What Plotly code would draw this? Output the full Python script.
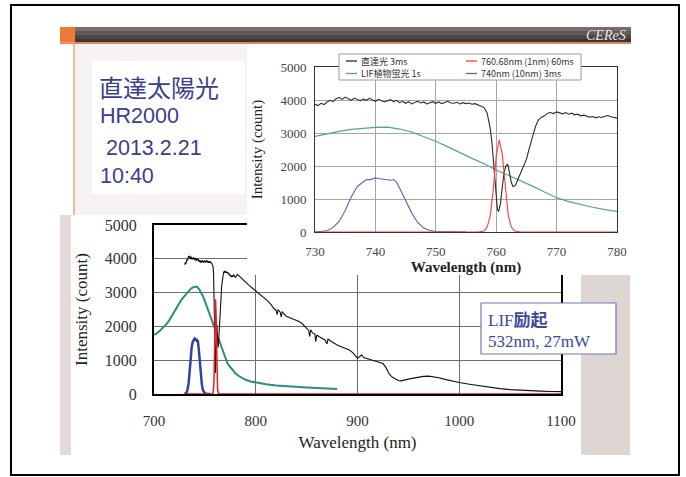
import plotly.graph_objects as go

W, H = 686, 477

# ---------------- data ----------------
black_wl = [730.0, 730.5, 731.0, 731.5, 732.0, 732.5, 733.0, 733.5, 734.0, 734.5,
            735.0, 735.5, 736.0, 736.5, 737.0, 737.5, 738.0, 738.5, 739.0, 739.5,
            740.0, 740.5, 741.0, 741.5, 742.0, 742.5, 743.0, 743.5, 744.0, 744.5,
            745.0, 745.5, 746.0, 746.5, 747.0, 747.5, 748.0, 748.5, 749.0, 749.5,
            750.0, 750.5, 751.0, 751.5, 752.0, 752.5, 753.0, 753.5, 754.0, 754.5,
            755.0, 755.5, 756.0, 756.5, 757.0, 757.5, 758.0, 758.5, 759.0, 759.3,
            759.6, 759.9, 760.2, 760.4, 760.7, 761.0, 761.3, 761.6, 761.9, 762.2,
            762.5, 762.8, 763.2, 763.6, 764.0, 764.5, 765.0, 765.5, 766.0, 766.5,
            767.0, 767.5, 768.0, 768.5, 769.0, 769.5, 770.0, 770.5, 771.0, 771.5,
            772.0, 772.5, 773.0, 773.5, 774.0, 774.5, 775.0, 775.5, 776.0, 776.5,
            777.0, 777.5, 778.0, 778.5, 779.0, 779.5, 780.0,
            782, 784, 786, 788, 790, 792, 794, 796, 798, 800,
            802, 804, 806, 808, 810, 812, 814, 816, 818, 820,
            821, 822, 824, 825, 826, 828, 830, 833, 836, 839,
            842, 845, 848, 850, 852, 853, 854, 856, 858, 859,
            860, 862, 865, 868, 870, 871, 874, 877, 880, 884,
            888, 892, 895, 898, 900, 902, 904, 906, 910, 915,
            920, 925, 928, 931, 934, 937, 940, 943, 946, 950,
            955, 960, 965, 970, 975, 980, 985, 990, 995, 1000,
            1010, 1020, 1030, 1040, 1050, 1060, 1070, 1080, 1090, 1100]
black_int = [3870, 3830, 3900, 3860, 3940, 3990, 3950, 4040, 4080, 4020,
             4090, 4050, 3990, 4060, 4020, 3980, 4030, 3990, 4050, 4000,
             3960, 4020, 3990, 3940, 3980, 4010, 3950, 3990, 3920, 3960,
             3900, 3950, 3880, 3930, 3960, 3910, 3940, 3880, 3920, 3950,
             3900, 3940, 3890, 3920, 3960, 3910, 3900, 3930, 3880, 3920,
             3890, 3910, 3870, 3890, 3850, 3820, 3770, 3600, 3150, 2700,
             1950, 1200, 680, 620, 850, 1350, 1800, 2000, 2050, 1800,
             1500, 1370, 1420, 1600, 1780, 1950, 2200, 2550, 2900, 3200,
             3400, 3480, 3520, 3600, 3620, 3590, 3640, 3600, 3580, 3620,
             3570, 3600, 3550, 3570, 3520, 3540, 3510, 3480, 3500, 3460,
             3490, 3470, 3510, 3530, 3490, 3460, 3450,
             3540, 3480, 3420, 3350, 3300, 3260, 3200, 3150, 3100, 3040,
             3000, 2960, 2900, 2850, 2790, 2750, 2680, 2600, 2520, 2480,
             2350, 2500, 2420, 2280, 2440, 2360, 2300, 2260, 2230, 2200,
             2150, 2100, 2000, 1950, 1880, 1700, 1900, 1800, 1780, 1550,
             1750, 1700, 1650, 1600, 1480, 1620, 1560, 1500, 1450, 1400,
             1350, 1300, 1230, 1120, 1060, 1100, 1160, 1080, 1040, 1000,
             960, 900, 780, 600, 500, 440, 400, 390, 420, 440,
             470, 500, 520, 530, 510, 480, 440, 400, 370, 340,
             290, 240, 200, 160, 130, 110, 95, 85, 75, 70]

teal_wl = [700, 703, 706, 709, 712, 715, 718, 721, 724, 727,
           730, 732, 734, 736, 738, 740, 742, 744, 746, 748,
           750, 752, 754, 756, 758, 760, 762, 764, 766, 768,
           770, 772, 774, 776, 778, 780, 783, 786, 790, 795,
           800, 805, 810, 820, 830, 840, 850, 860, 870, 880]
teal_int = [1750, 1800, 1880, 1960, 2060, 2180, 2320, 2480, 2640, 2790,
            2900, 2980, 3050, 3110, 3150, 3170, 3180, 3120, 3030, 2900,
            2750, 2580, 2400, 2230, 2070, 1880, 1720, 1560, 1390, 1210,
            1040, 920, 830, 750, 680, 615, 540, 480, 420, 370,
            340, 310, 290, 255, 230, 210, 195, 180, 165, 150]

blue_wl = [730, 731, 732, 733, 734, 735, 736, 737, 738, 738.5,
           739, 739.5, 740, 740.5, 741, 741.5, 742, 742.5, 743, 743.5,
           744, 744.5, 745, 745.5, 746, 747, 748, 749, 750, 752, 755]
blue_int = [0, 10, 40, 140, 320, 650, 1060, 1380, 1540, 1590,
            1580, 1620, 1640, 1620, 1610, 1590, 1600, 1570, 1590, 1510,
            1330, 1150, 950, 760, 580, 290, 120, 45, 15, 5, 0]

red_wl = [730, 757, 758, 758.5, 759, 759.5, 760, 760.5, 761, 761.5,
          762, 762.5, 763, 764, 1100]
red_int = [0, 0, 30, 150, 480, 1250, 2300, 2800, 2350, 1300,
           500, 150, 40, 0, 0]

series_names = ["直達光 3ms", "LIF植物蛍光 1s", "760.68nm (1nm) 60ms", "740nm (10nm) 3ms"]
main_xticks = [700, 800, 900, 1000, 1100]
inset_xticks = [730, 740, 750, 760, 770, 780]
y_ticks = [0, 1000, 2000, 3000, 4000, 5000]
info_lines = ["直達太陽光", "HR2000", "\u00a02013.2.21", "10:40"]
lif_lines = ["LIF<span style=\"font-family:'Noto Sans CJK JP'\"><b>励起</b></span>", "532nm, 27mW"]
header_text = "CEReS"

# ---------------- helpers ----------------
def X(p):
    return p / W

def Y(p):
    return 1 - p / H

SERIF = "Liberation Serif, Times New Roman, serif"
SANS = "Liberation Sans, Arial, sans-serif"
CJK = "Noto Sans CJK JP, sans-serif"
TXT_BLUE = "#3a3f8e"

fig = go.Figure()

# main chart traces
main_style = {
    "teal": dict(color="#2e8c7d", width=2),
    "blue": dict(color="#3540a6", width=2.5),
    "black": dict(color="#111111", width=1.1),
    "red": dict(color="#ec1c24", width=1.5),
}
fig.add_trace(go.Scatter(x=teal_wl, y=teal_int, mode="lines", line=main_style["teal"],
                         name=series_names[1], showlegend=False, xaxis="x", yaxis="y"))
fig.add_trace(go.Scatter(x=blue_wl, y=blue_int, mode="lines", line=main_style["blue"],
                         name=series_names[3], showlegend=False, xaxis="x", yaxis="y"))
fig.add_trace(go.Scatter(x=black_wl, y=black_int, mode="lines", line=main_style["black"],
                         name=series_names[0], showlegend=False, xaxis="x", yaxis="y"))
fig.add_trace(go.Scatter(x=red_wl, y=red_int, mode="lines", line=main_style["red"],
                         name=series_names[2], showlegend=False, xaxis="x", yaxis="y"))

# empty subplot acting as the white backing of the inset
fig.add_trace(go.Scatter(x=[None], y=[None], mode="lines", showlegend=False,
                         hoverinfo="skip", xaxis="x2", yaxis="y2"))

# inset traces
inset_style = {
    "teal": dict(color="#4ea596", width=1.2),
    "blue": dict(color="#5a62bb", width=1.1),
    "black": dict(color="#2b2b2b", width=1.1),
    "red": dict(color="#ff3b3b", width=1.1),
}
fig.add_trace(go.Scatter(x=teal_wl, y=teal_int, mode="lines", line=inset_style["teal"],
                         name=series_names[1], showlegend=False, xaxis="x3", yaxis="y3"))
fig.add_trace(go.Scatter(x=blue_wl, y=blue_int, mode="lines", line=inset_style["blue"],
                         name=series_names[3], showlegend=False, xaxis="x3", yaxis="y3"))
fig.add_trace(go.Scatter(x=black_wl, y=black_int, mode="lines", line=inset_style["black"],
                         name=series_names[0], showlegend=False, xaxis="x3", yaxis="y3"))
fig.add_trace(go.Scatter(x=red_wl, y=red_int, mode="lines", line=inset_style["red"],
                         name=series_names[2], showlegend=False, xaxis="x3", yaxis="y3"))

main_axis_common = dict(showgrid=True, gridcolor="#6e6e6e", gridwidth=1, zeroline=False,
                        showline=True, linecolor="#000000", linewidth=2, mirror=True,
                        ticks="", automargin=False)
inset_axis_common = dict(showgrid=True, gridcolor="#a6a6a6", gridwidth=1, zeroline=False,
                         showline=True, linecolor="#333333", linewidth=1, mirror=True,
                         ticks="", automargin=False)

fig.update_layout(
    width=W, height=H, autosize=False,
    margin=dict(l=0, r=0, t=0, b=0, pad=0),
    paper_bgcolor="#ffffff", plot_bgcolor="#ffffff",
    showlegend=False,
    xaxis=dict(domain=[X(154), X(561)], range=[700, 1100], tickvals=main_xticks,
               tickfont=dict(family=SERIF, size=15, color="#333333"), ticklabelstandoff=12,
               title=dict(text="Wavelength (nm)", font=dict(family=SERIF, size=17, color="#222222"),
                          standoff=8),
               anchor="y", **main_axis_common),
    yaxis=dict(domain=[Y(394), Y(225)], range=[0, 5000], tickvals=y_ticks,
               tickfont=dict(family=SERIF, size=16, color="#333333"), ticklabelstandoff=12,
               title=dict(text="Intensity (count)", font=dict(family=SERIF, size=17, color="#222222"),
                          standoff=13),
               anchor="x", **main_axis_common),
    xaxis2=dict(domain=[X(247), X(640)], range=[0, 1], visible=False, anchor="y2", automargin=False),
    yaxis2=dict(domain=[Y(275), Y(190)], range=[0, 1], visible=False, anchor="x2", automargin=False),
    xaxis3=dict(domain=[X(315), X(617)], range=[730, 780], tickvals=inset_xticks,
                tickfont=dict(family=SERIF, size=13, color="#444444"), ticklabelstandoff=7,
                title=dict(text="<b>Wavelength (nm)</b>", font=dict(family=SERIF, size=15, color="#222222"),
                           standoff=1),
                anchor="y3", **inset_axis_common),
    yaxis3=dict(domain=[Y(232), Y(67)], range=[0, 5000], tickvals=y_ticks,
                tickfont=dict(family=SERIF, size=13, color="#444444"), ticklabelstandoff=5,
                title=dict(text="Intensity (count)", font=dict(family=SERIF, size=15, color="#222222"),
                           standoff=14),
                anchor="x3", **inset_axis_common),
)

shapes = []

def rect(x0, y0, x1, y1, fill, line_color=None, lw=0, layer="below"):
    shapes.append(dict(type="rect", xref="paper", yref="paper",
                       x0=X(x0), x1=X(x1), y0=Y(y1), y1=Y(y0),
                       fillcolor=fill, layer=layer,
                       line=dict(color=line_color or fill, width=lw)))

def seg(x0, y0, x1, y1, color, lw, layer="below"):
    shapes.append(dict(type="line", xref="paper", yref="paper",
                       x0=X(x0), x1=X(x1), y0=Y(y0), y1=Y(y1), layer=layer,
                       line=dict(color=color, width=lw)))

# slide decorations
rect(75, 44, 247, 215, "#f6f3f2")              # left text panel
rect(92, 61, 245, 194, "#ffffff")              # white text box
rect(60, 215, 71, 455, "#e2dbd9")              # left grey strip
rect(581, 275, 630, 455, "#ddd6d3")            # right grey strip
# header bar with a simple vertical gradient
rect(75, 27, 631, 31, "#756e6a")
rect(75, 31, 631, 35, "#605955")
rect(75, 35, 631, 39, "#4c4643")
rect(75, 39, 631, 42.5, "#3b3633")
rect(60, 27, 75, 42.5, "#f07838")              # orange square
rect(60, 42.5, 631, 44, "#ee8350")             # orange underline
seg(74, 44, 74, 215, "#f0a07e", 1.5)           # orange vertical rule
# slide frame
shapes.append(dict(type="rect", xref="paper", yref="paper", x0=X(11), x1=X(679),
                   y0=Y(475), y1=Y(5), layer="below",
                   line=dict(color="#000000", width=2), fillcolor="rgba(0,0,0,0)"))

# inset legend (box + line samples)
rect(339, 54, 581, 80, "#ffffff", "#9a9a9a", 1, layer="above")
leg_colors = [inset_style["black"]["color"], inset_style["teal"]["color"],
              inset_style["red"]["color"], inset_style["blue"]["color"]]
leg_pos = [(346, 61), (346, 73.5), (466, 61), (466, 73.5)]
for (lx, ly), c in zip(leg_pos, leg_colors):
    seg(lx, ly, lx + 11, ly, c, 1.3, layer="above")

# LIF box
rect(481, 303, 616, 354, "#ffffff", "#6f7bbd", 1.2, layer="above")

annotations = []

def text(x, y, s, size, family, color, xanchor="left", pad=1):
    annotations.append(dict(xref="paper", yref="paper", x=X(x), y=Y(y), text=s,
                            showarrow=False, xanchor=xanchor, yanchor="middle",
                            borderpad=pad,
                            font=dict(size=size, family=family, color=color)))

text(628, 35, "<i>" + header_text + "</i>", 14, SERIF, "#ece6e2", xanchor="right")
text(97, 86, info_lines[0], 24, CJK, TXT_BLUE)
text(98, 116, info_lines[1], 21.5, SANS, TXT_BLUE)
text(98, 148, info_lines[2], 21.5, SANS, TXT_BLUE)
text(98, 176, info_lines[3], 21.5, SANS, TXT_BLUE)

for (lx, ly), name in zip(leg_pos, series_names):
    text(lx + 14, ly, name, 9, CJK, "#333333", pad=0)

text(486, 318, lif_lines[0], 17, SERIF, "#3b4a9c")
text(486, 341, lif_lines[1], 17, SERIF, "#3b4a9c")

fig.update_layout(shapes=shapes, annotations=annotations)

fig.write_html("out.html",
               config={"displayModeBar": False},
               post_script="document.body.style.margin='0px';document.body.style.overflow='hidden';")
